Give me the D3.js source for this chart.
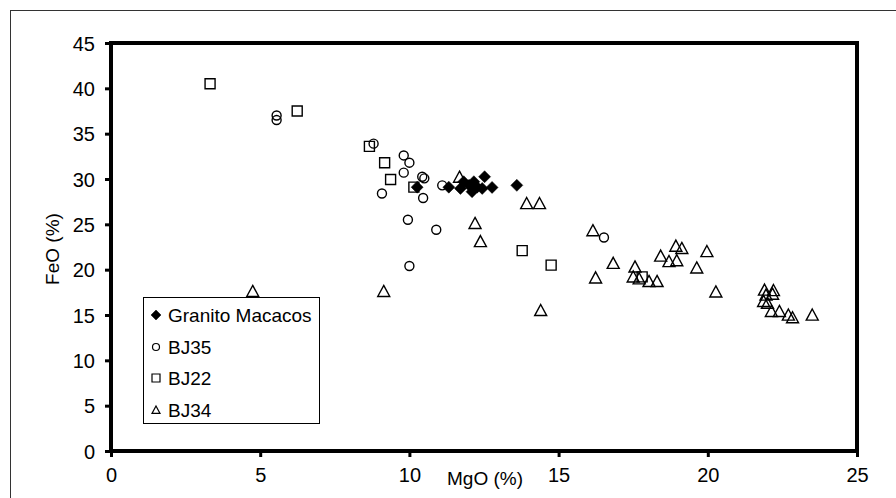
<!DOCTYPE html>
<html>
<head>
<meta charset="utf-8">
<script src="https://cdn.jsdelivr.net/npm/d3@7"></script>
<style>
  body { margin: 0; background: #fff; }
  text { font-family: "Liberation Sans", Arial, sans-serif; fill: #000; }
</style>
</head>
<body>
<svg width="896" height="498"></svg>
<script>
// series, MgO (%) on x, FeO (%) on y
const granitoX = [10.26, 11.32, 11.71, 11.82, 12.0, 12.1, 12.16, 12.27, 12.44, 12.52, 12.77, 13.6];
const granitoY = [29.1, 29.1, 28.96, 29.7, 29.3, 28.6, 29.7, 29.1, 28.96, 30.25, 29.07, 29.3];

const bj35X = [5.55, 5.55, 8.8, 9.81, 10.0, 9.81, 10.43, 10.5, 9.08, 10.46, 11.1, 9.95, 10.9, 10.0, 16.52];
const bj35Y = [37.0, 36.5, 33.9, 32.6, 31.8, 30.7, 30.25, 30.07, 28.4, 27.9, 29.3, 25.5, 24.4, 20.4, 23.55];

const bj22X = [3.32, 6.24, 8.66, 9.17, 9.37, 10.15, 13.78, 14.75, 17.8];
const bj22Y = [40.5, 37.5, 33.6, 31.8, 29.95, 29.1, 22.1, 20.5, 19.2];

const bj34X = [4.75, 9.14, 11.68, 12.2, 12.38, 13.93, 14.36, 14.4, 16.15, 16.24, 16.83, 17.56, 17.5, 17.7,
  18.03, 18.3, 18.42, 18.7, 18.96, 18.93, 19.13, 19.97, 19.63, 20.27, 21.9, 22.2, 21.95, 22.17, 21.87,
  22.0, 22.13, 22.4, 22.7, 22.84, 23.5];
const bj34Y = [17.6, 17.6, 30.2, 25.1, 23.1, 27.3, 27.3, 15.5, 24.3, 19.1, 20.7, 20.3, 19.2, 19.0,
  18.7, 18.7, 21.5, 20.9, 21.0, 22.6, 22.35, 22.0, 20.2, 17.55, 17.75, 17.7, 17.2, 17.3, 16.5,
  16.3, 15.4, 15.4, 15.0, 14.7, 15.0];

const xTicks = [0, 5, 10, 15, 20, 25];
const yTicks = [0, 5, 10, 15, 20, 25, 30, 35, 40, 45];
const legendNames = ["Granito Macacos", "BJ35", "BJ22", "BJ34"];

const svg = d3.select("svg");

// outer chart border
svg.append("rect")
  .attr("x", 10.5).attr("y", 10.5)
  .attr("width", 890).attr("height", 500)
  .attr("fill", "none").attr("stroke", "#333").attr("stroke-width", 1);

const x = d3.scaleLinear().domain([0, 25]).range([111, 857]);
const y = d3.scaleLinear().domain([0, 45]).range([451, 43]);

// marker shapes, centred on their box
function shape(kind, s) {
  const h = s / 2;
  if (kind === "diamond") return `M0,${-h}L${h},0L0,${h}L${-h},0Z`;
  if (kind === "square") return `M${-h},${-h}H${h}V${h}H${-h}Z`;
  if (kind === "triangle") return `M0,${-h}L${h},${h * 0.85}L${-h},${h * 0.85}Z`;
  return null;
}

const series = [
  { xs: granitoX, ys: granitoY, kind: "diamond", size: 12 },
  { xs: bj35X, ys: bj35Y, kind: "circle", size: 9 },
  { xs: bj22X, ys: bj22Y, kind: "square", size: 10 },
  { xs: bj34X, ys: bj34Y, kind: "triangle", size: 12 }
];

const plot = svg.append("g");
// draw BJ35, BJ22, BJ34, then granito on top
[1, 2, 3, 0].forEach(i => {
  const s = series[i];
  const pts = s.xs.map((v, j) => [v, s.ys[j]]);
  const g = plot.append("g");
  if (s.kind === "circle") {
    g.selectAll("circle").data(pts).enter().append("circle")
      .attr("cx", d => x(d[0])).attr("cy", d => y(d[1]))
      .attr("r", s.size / 2)
      .attr("fill", "none").attr("stroke", "#000").attr("stroke-width", 1.4);
  } else {
    g.selectAll("path").data(pts).enter().append("path")
      .attr("transform", d => `translate(${x(d[0])},${y(d[1])})`)
      .attr("d", shape(s.kind, s.size))
      .attr("fill", s.kind === "diamond" ? "#000" : "none")
      .attr("stroke", "#000").attr("stroke-width", s.kind === "diamond" ? 0.5 : 1.4);
  }
});

// axes
const xAxis = d3.axisBottom(x).tickValues(xTicks).tickSize(6).tickFormat(d3.format("d"));
const yAxis = d3.axisLeft(y).tickValues(yTicks).tickSize(6).tickFormat(d3.format("d"));

const gx = svg.append("g").attr("transform", `translate(0,${y(0)})`).call(xAxis);
const gy = svg.append("g").attr("transform", `translate(${x(0)},0)`).call(yAxis);
[gx, gy].forEach(g => {
  g.select(".domain").remove();
  g.selectAll(".tick line").attr("stroke", "#000").attr("stroke-width", 3);
  g.selectAll(".tick text").attr("fill", "#000")
    .style("font-size", "20px").style("font-family", "Liberation Sans, Arial, sans-serif");
});
gx.selectAll(".tick text").attr("y", 17).attr("dy", "0.71em");
gy.selectAll(".tick text").attr("x", -16).attr("dy", "0.35em");

// plot frame
svg.append("rect")
  .attr("x", x(0)).attr("y", y(45))
  .attr("width", x(25) - x(0)).attr("height", y(0) - y(45))
  .attr("fill", "none").attr("stroke", "#000").attr("stroke-width", 4);

// axis titles
svg.append("text").attr("x", 485).attr("y", 485).attr("fill", "#000")
  .attr("text-anchor", "middle").style("font-size", "19px").text("MgO (%)");
svg.append("text").attr("transform", "translate(59,249) rotate(-90)").attr("fill", "#000")
  .attr("text-anchor", "middle").style("font-size", "19px").text("FeO (%)");

// legend
const leg = svg.append("g");
leg.append("rect").attr("x", 143.5).attr("y", 297.5).attr("width", 176).attr("height", 126)
  .attr("fill", "#fff").attr("stroke", "#000").attr("stroke-width", 1);
const legY = [315, 347, 378, 410];
legendNames.forEach((name, i) => {
  const s = series[i];
  const cy = legY[i];
  if (s.kind === "circle") {
    leg.append("circle").attr("cx", 156).attr("cy", cy).attr("r", 3.5)
      .attr("fill", "none").attr("stroke", "#000").attr("stroke-width", 1.2);
  } else {
    leg.append("path").attr("transform", `translate(156,${cy})`)
      .attr("d", shape(s.kind, s.kind === "diamond" ? 10 : 8))
      .attr("fill", s.kind === "diamond" ? "#000" : "none")
      .attr("stroke", "#000").attr("stroke-width", s.kind === "diamond" ? 0.5 : 1.2);
  }
  leg.append("text").attr("x", 168).attr("y", cy).attr("dy", "0.35em").attr("fill", "#000")
    .style("font-size", "19px").text(name);
});
</script>
</body>
</html>
